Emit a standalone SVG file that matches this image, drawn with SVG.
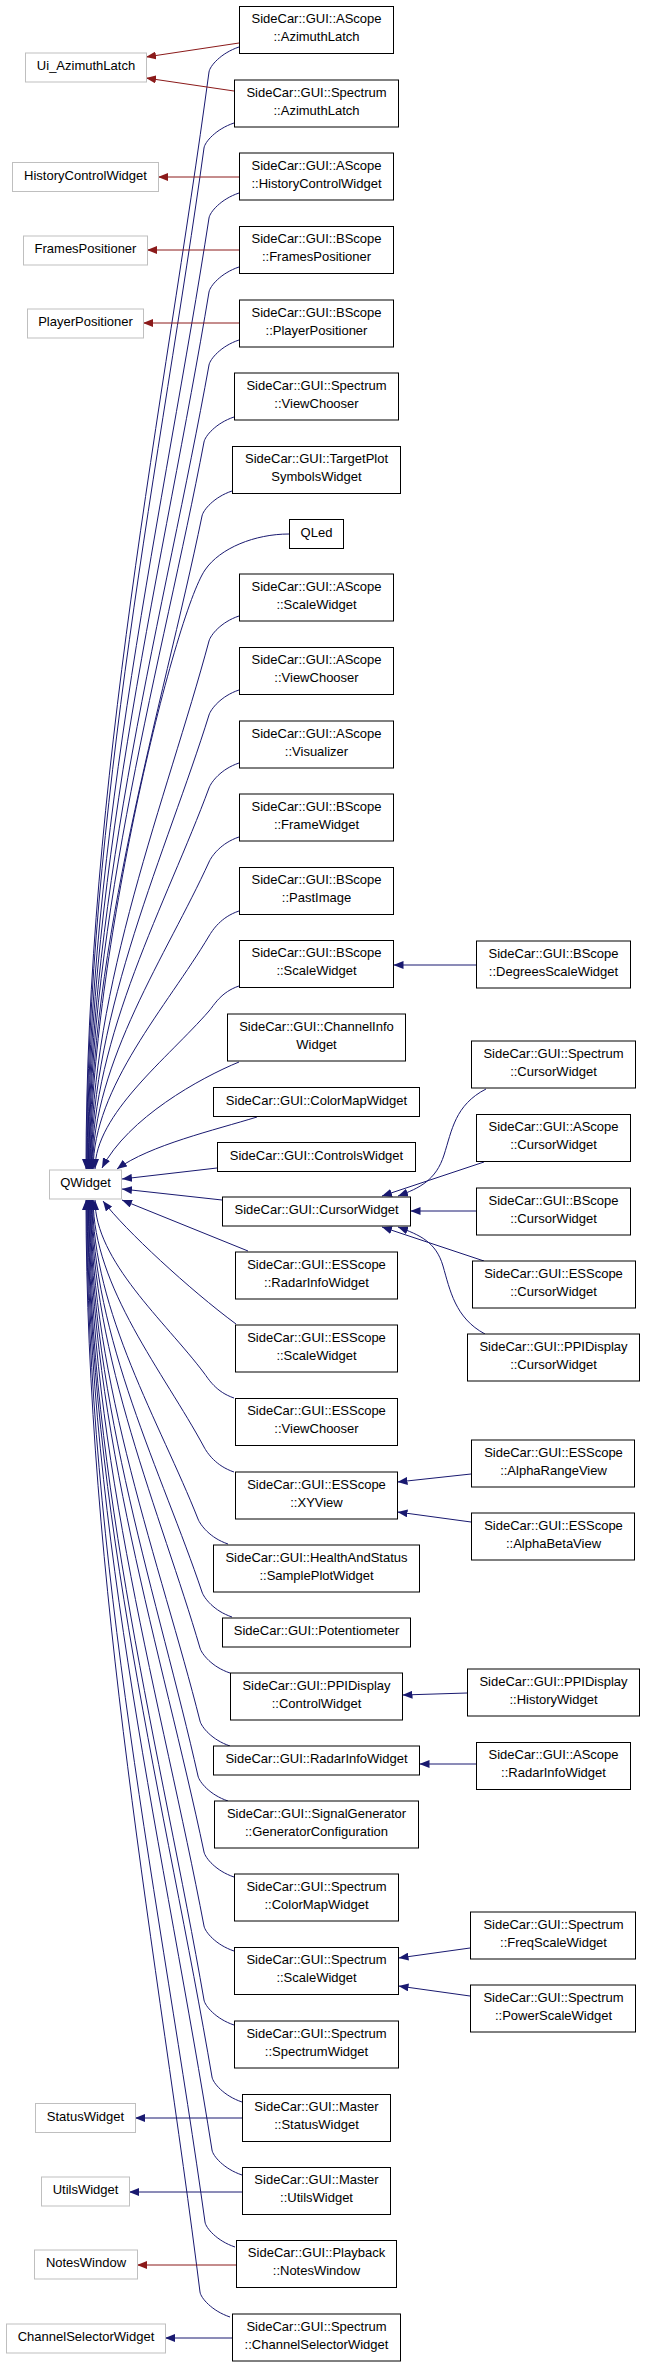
<svg xmlns="http://www.w3.org/2000/svg" width="645" height="2368" viewBox="0 0 645 2368">
<defs>
<style>
.n rect{fill:#fff;stroke:#000;stroke-width:1}
.x rect{fill:#fff;stroke:#bfbfbf;stroke-width:1}
text{font-family:"Liberation Sans",Arial,Helvetica,sans-serif;font-size:13px;fill:#000;text-anchor:middle}
.eb{fill:none;stroke:#191970;stroke-width:1}
.er{fill:none;stroke:#8b1a1a;stroke-width:1}
.eb{marker-end:url(#ab)}
.er{marker-end:url(#ar)}
</style>
<marker id="ab" viewBox="0 0 10 8" refX="10" refY="4" markerWidth="10" markerHeight="8" markerUnits="userSpaceOnUse" orient="auto"><path d="M0,0 L10,4 L0,8 Z" fill="#191970"/></marker>
<marker id="ar" viewBox="0 0 10 8" refX="10" refY="4" markerWidth="10" markerHeight="8" markerUnits="userSpaceOnUse" orient="auto"><path d="M0,0 L10,4 L0,8 Z" fill="#8b1a1a"/></marker>
</defs>
<rect width="645" height="2368" fill="#fff"/>
<g id="edges">
<!-- to QWidget from above -->
<path class="eb" d="M239,47 C221,53 209.8,66 209,72 C164.7,401 86,785 86,1169"/>
<path class="eb" d="M234,123 C216,129 204.8,142 204,148 C161.7,454 86.6,812 86.6,1169"/>
<path class="eb" d="M239,193 C221,199 209.9,212 209,218 C165.1,503 87.2,836 87.2,1169"/>
<path class="eb" d="M239,267 C221,273 210,286 209,292 C165.4,555 87.8,862 87.8,1169"/>
<path class="eb" d="M239,340 C221,346 210.1,359 209,365 C165.6,606 88.4,888 88.4,1169"/>
<path class="eb" d="M234,417 C216,423 205.1,436 204,442 C162.6,660 89,914 89,1169"/>
<path class="eb" d="M232,491 C214,497 203.2,510 202,516 C161.5,712 89.6,940 89.6,1169"/>
<path class="eb" d="M289,534 C255,534 220,548 205,570 C175,614 90.2,956 90.2,1169"/>
<path class="eb" d="M239,616 C221,622 210.6,635 209,641 C166.5,799 90.8,984 90.8,1169"/>
<path class="eb" d="M239,690 C221,696 210.9,709 209,715 C166.7,851 91.4,1010 91.4,1169"/>
<path class="eb" d="M239,763 C221,769 211.2,782 209,788 C166.9,902 92,1036 92,1169"/>
<path class="eb" d="M239,837 C221,843 211.7,856 209,862 C167.1,954 92.6,1062 92.6,1169"/>
<path class="eb" d="M239,911 C221,917 212.6,930 209,936 C167.3,1006 93.2,1087 93.2,1169"/>
<path class="eb" d="M239,986 C221,992 214.2,1005 209,1011 C168,1058 95,1114 95,1169"/>
<path class="eb" d="M239,1062 C200,1078 128,1118 102,1168"/>
<path class="eb" d="M257,1117 C215,1130 150,1145 117,1169"/>
<path class="eb" d="M217,1168 L122,1179"/>
<path class="eb" d="M222,1200 L122,1189"/>
<path class="eb" d="M248,1251 L122,1200"/>
<path class="eb" d="M236,1324 C190,1290 125,1230 103,1201"/>
<!-- to QWidget from below -->
<path class="eb" d="M234,1398 C216,1392 208.5,1379 204,1373 C164.8,1321 95,1261 95,1200"/>
<path class="eb" d="M234,1472 C216,1466 207.2,1453 204,1447 C164.1,1373 93.2,1287 93.2,1200"/>
<path class="eb" d="M228,1544 C210,1538 200.4,1525 198,1519 C160.1,1423 92.6,1312 92.6,1200"/>
<path class="eb" d="M232,1617 C214,1611 204,1598 202,1592 C162.4,1474 92,1337 92,1200"/>
<path class="eb" d="M230,1673 C212,1667 201.7,1654 200,1648 C160.9,1514 91.4,1357 91.4,1200"/>
<path class="eb" d="M230,1746 C212,1740 201.5,1727 200,1721 C160.7,1565 90.8,1382 90.8,1200"/>
<path class="eb" d="M228,1801 C210,1795 199.3,1782 198,1776 C159.2,1603 90.2,1402 90.2,1200"/>
<path class="eb" d="M234,1877 C216,1871 205.3,1858 204,1852 C162.8,1656 89.6,1428 89.6,1200"/>
<path class="eb" d="M234,1951 C216,1945 205.1,1932 204,1926 C162.6,1708 89,1454 89,1200"/>
<path class="eb" d="M234,2025 C216,2019 205,2006 204,2000 C162.4,1760 88.4,1480 88.4,1200"/>
<path class="eb" d="M242,2102 C224,2096 213,2083 212,2077 C167.3,1814 87.8,1507 87.8,1200"/>
<path class="eb" d="M242,2175 C224,2169 212.9,2156 212,2150 C167.1,1865 87.2,1533 87.2,1200"/>
<path class="eb" d="M235,2247 C217,2241 205.8,2228 205,2222 C162.4,1915 86.6,1558 86.6,1200"/>
<path class="eb" d="M230,2317 C212,2311 200.8,2298 200,2292 C159,1964 86,1582 86,1200"/>
<!-- left side bases -->
<path class="er" d="M239,43 L146,57"/>
<path class="er" d="M234,91 L146,78"/>
<path class="er" d="M239,177 L158,177"/>
<path class="er" d="M239,250 L147,250"/>
<path class="er" d="M239,323 L143,323"/>
<path class="eb" d="M242,2118 L135,2118"/>
<path class="eb" d="M242,2192 L129,2192"/>
<path class="er" d="M236,2265 L137,2265"/>
<path class="eb" d="M232,2338 L165,2338"/>
<!-- right side derived -->
<path class="eb" d="M476,965 L393.5,965"/>
<path class="eb" d="M486,1089 C455,1105 452,1130 444,1155 S420,1188 398,1196"/>
<path class="eb" d="M484,1162 L382,1196"/>
<path class="eb" d="M476,1211 L410.5,1211"/>
<path class="eb" d="M484,1261 L382,1227"/>
<path class="eb" d="M485,1334 C455,1318 450,1290 443,1266 S420,1235 398,1227"/>
<path class="eb" d="M471,1474 L397.5,1482"/>
<path class="eb" d="M471,1522 L397.5,1512"/>
<path class="eb" d="M467,1693 L402.5,1695"/>
<path class="eb" d="M476,1764 L419.5,1764"/>
<path class="eb" d="M470,1948 L398.5,1958"/>
<path class="eb" d="M470,1996 L398.5,1986"/>
</g>
<!-- left column (external) -->
<g id="Ui_AzimuthLatch" class="x"><rect x="25.5" y="53" width="121" height="29"/><text x="86" y="70">Ui_AzimuthLatch</text></g>
<g id="HistoryControlWidget" class="x"><rect x="12.5" y="162.5" width="146" height="29"/><text x="85.5" y="179.5">HistoryControlWidget</text></g>
<g id="FramesPositioner" class="x"><rect x="23.5" y="236" width="124" height="29"/><text x="85.5" y="253">FramesPositioner</text></g>
<g id="PlayerPositioner" class="x"><rect x="27.5" y="309" width="116" height="29"/><text x="85.5" y="326">PlayerPositioner</text></g>
<g id="QWidget" class="x"><rect x="49.5" y="1170" width="72" height="29"/><text x="85.5" y="1187">QWidget</text></g>
<g id="StatusWidget" class="x"><rect x="35.5" y="2103.5" width="100" height="29"/><text x="85.5" y="2120.5">StatusWidget</text></g>
<g id="UtilsWidget" class="x"><rect x="41.5" y="2177" width="88" height="29"/><text x="85.5" y="2194">UtilsWidget</text></g>
<g id="NotesWindow" class="x"><rect x="34.5" y="2250" width="103" height="29"/><text x="86" y="2267">NotesWindow</text></g>
<g id="ChannelSelectorWidget" class="x"><rect x="6.5" y="2324" width="159" height="29"/><text x="86" y="2341">ChannelSelectorWidget</text></g>
<!-- middle column -->
<g id="AScope_AzimuthLatch" class="n"><rect x="239.5" y="6.5" width="154" height="47"/><text x="316.5"><tspan x="316.5" y="23">SideCar::GUI::AScope</tspan><tspan x="316.5" y="41">::AzimuthLatch</tspan></text></g>
<g id="Spectrum_AzimuthLatch" class="n"><rect x="234.5" y="80" width="164" height="47"/><text><tspan x="316.5" y="96.5">SideCar::GUI::Spectrum</tspan><tspan x="316.5" y="114.5">::AzimuthLatch</tspan></text></g>
<g id="AScope_HistoryControlWidget" class="n"><rect x="239.5" y="153" width="154" height="47"/><text><tspan x="316.5" y="169.5">SideCar::GUI::AScope</tspan><tspan x="316.5" y="187.5">::HistoryControlWidget</tspan></text></g>
<g id="BScope_FramesPositioner" class="n"><rect x="239.5" y="226.5" width="154" height="47"/><text><tspan x="316.5" y="243">SideCar::GUI::BScope</tspan><tspan x="316.5" y="261">::FramesPositioner</tspan></text></g>
<g id="BScope_PlayerPositioner" class="n"><rect x="239.5" y="300" width="154" height="47"/><text><tspan x="316.5" y="316.5">SideCar::GUI::BScope</tspan><tspan x="316.5" y="334.5">::PlayerPositioner</tspan></text></g>
<g id="Spectrum_ViewChooser" class="n"><rect x="234.5" y="373" width="164" height="47"/><text><tspan x="316.5" y="389.5">SideCar::GUI::Spectrum</tspan><tspan x="316.5" y="407.5">::ViewChooser</tspan></text></g>
<g id="TargetPlotSymbolsWidget" class="n"><rect x="232.5" y="446.5" width="168" height="47"/><text><tspan x="316.5" y="463">SideCar::GUI::TargetPlot</tspan><tspan x="316.5" y="481">SymbolsWidget</tspan></text></g>
<g id="QLed" class="n"><rect x="289.5" y="519.5" width="54" height="29"/><text x="316.5" y="536.5">QLed</text></g>
<g id="AScope_ScaleWidget" class="n"><rect x="239.5" y="574" width="154" height="47"/><text><tspan x="316.5" y="590.5">SideCar::GUI::AScope</tspan><tspan x="316.5" y="608.5">::ScaleWidget</tspan></text></g>
<g id="AScope_ViewChooser" class="n"><rect x="239.5" y="647.5" width="154" height="47"/><text><tspan x="316.5" y="664">SideCar::GUI::AScope</tspan><tspan x="316.5" y="682">::ViewChooser</tspan></text></g>
<g id="AScope_Visualizer" class="n"><rect x="239.5" y="721" width="154" height="47"/><text><tspan x="316.5" y="737.5">SideCar::GUI::AScope</tspan><tspan x="316.5" y="755.5">::Visualizer</tspan></text></g>
<g id="BScope_FrameWidget" class="n"><rect x="239.5" y="794" width="154" height="47"/><text><tspan x="316.5" y="810.5">SideCar::GUI::BScope</tspan><tspan x="316.5" y="828.5">::FrameWidget</tspan></text></g>
<g id="BScope_PastImage" class="n"><rect x="239.5" y="867.5" width="154" height="47"/><text><tspan x="316.5" y="884">SideCar::GUI::BScope</tspan><tspan x="316.5" y="902">::PastImage</tspan></text></g>
<g id="BScope_ScaleWidget" class="n"><rect x="239.5" y="940.5" width="154" height="47"/><text><tspan x="316.5" y="957">SideCar::GUI::BScope</tspan><tspan x="316.5" y="975">::ScaleWidget</tspan></text></g>
<g id="ChannelInfoWidget" class="n"><rect x="227.5" y="1014" width="178" height="47"/><text><tspan x="316.5" y="1030.5">SideCar::GUI::ChannelInfo</tspan><tspan x="316.5" y="1048.5">Widget</tspan></text></g>
<g id="ColorMapWidget" class="n"><rect x="213.5" y="1087.5" width="206" height="29"/><text x="316.5" y="1104.5">SideCar::GUI::ColorMapWidget</text></g>
<g id="ControlsWidget" class="n"><rect x="217.5" y="1142.5" width="198" height="29"/><text x="316.5" y="1159.5">SideCar::GUI::ControlsWidget</text></g>
<g id="CursorWidget" class="n"><rect x="222.5" y="1197" width="188" height="29"/><text x="316.5" y="1214">SideCar::GUI::CursorWidget</text></g>
<g id="ESScope_RadarInfoWidget" class="n"><rect x="235.5" y="1252" width="162" height="47"/><text><tspan x="316.5" y="1268.5">SideCar::GUI::ESScope</tspan><tspan x="316.5" y="1286.5">::RadarInfoWidget</tspan></text></g>
<g id="ESScope_ScaleWidget" class="n"><rect x="235.5" y="1325" width="162" height="47"/><text><tspan x="316.5" y="1341.5">SideCar::GUI::ESScope</tspan><tspan x="316.5" y="1359.5">::ScaleWidget</tspan></text></g>
<g id="ESScope_ViewChooser" class="n"><rect x="235.5" y="1398.5" width="162" height="47"/><text><tspan x="316.5" y="1415">SideCar::GUI::ESScope</tspan><tspan x="316.5" y="1433">::ViewChooser</tspan></text></g>
<g id="ESScope_XYView" class="n"><rect x="235.5" y="1472" width="162" height="47"/><text><tspan x="316.5" y="1488.5">SideCar::GUI::ESScope</tspan><tspan x="316.5" y="1506.5">::XYView</tspan></text></g>
<g id="HealthAndStatus_SamplePlotWidget" class="n"><rect x="213.5" y="1545" width="206" height="47"/><text><tspan x="316.5" y="1561.5">SideCar::GUI::HealthAndStatus</tspan><tspan x="316.5" y="1579.5">::SamplePlotWidget</tspan></text></g>
<g id="Potentiometer" class="n"><rect x="222.5" y="1618" width="188" height="29"/><text x="316.5" y="1635">SideCar::GUI::Potentiometer</text></g>
<g id="PPIDisplay_ControlWidget" class="n"><rect x="230.5" y="1673" width="172" height="47"/><text><tspan x="316.5" y="1689.5">SideCar::GUI::PPIDisplay</tspan><tspan x="316.5" y="1707.5">::ControlWidget</tspan></text></g>
<g id="RadarInfoWidget" class="n"><rect x="213.5" y="1746" width="206" height="29"/><text x="316.5" y="1763">SideCar::GUI::RadarInfoWidget</text></g>
<g id="SignalGenerator_GeneratorConfiguration" class="n"><rect x="214.5" y="1801" width="204" height="47"/><text><tspan x="316.5" y="1817.5">SideCar::GUI::SignalGenerator</tspan><tspan x="316.5" y="1835.5">::GeneratorConfiguration</tspan></text></g>
<g id="Spectrum_ColorMapWidget" class="n"><rect x="234.5" y="1874" width="164" height="47"/><text><tspan x="316.5" y="1890.5">SideCar::GUI::Spectrum</tspan><tspan x="316.5" y="1908.5">::ColorMapWidget</tspan></text></g>
<g id="Spectrum_ScaleWidget" class="n"><rect x="234.5" y="1947.5" width="164" height="47"/><text><tspan x="316.5" y="1964">SideCar::GUI::Spectrum</tspan><tspan x="316.5" y="1982">::ScaleWidget</tspan></text></g>
<g id="Spectrum_SpectrumWidget" class="n"><rect x="234.5" y="2021" width="164" height="47"/><text><tspan x="316.5" y="2037.5">SideCar::GUI::Spectrum</tspan><tspan x="316.5" y="2055.5">::SpectrumWidget</tspan></text></g>
<g id="Master_StatusWidget" class="n"><rect x="242.5" y="2094.5" width="148" height="47"/><text><tspan x="316.5" y="2111">SideCar::GUI::Master</tspan><tspan x="316.5" y="2129">::StatusWidget</tspan></text></g>
<g id="Master_UtilsWidget" class="n"><rect x="242.5" y="2167.5" width="148" height="47"/><text><tspan x="316.5" y="2184">SideCar::GUI::Master</tspan><tspan x="316.5" y="2202">::UtilsWidget</tspan></text></g>
<g id="Playback_NotesWindow" class="n"><rect x="236.5" y="2240.5" width="160" height="47"/><text><tspan x="316.5" y="2257">SideCar::GUI::Playback</tspan><tspan x="316.5" y="2275">::NotesWindow</tspan></text></g>
<g id="Spectrum_ChannelSelectorWidget" class="n"><rect x="232.5" y="2314" width="168" height="47"/><text><tspan x="316.5" y="2330.5">SideCar::GUI::Spectrum</tspan><tspan x="316.5" y="2348.5">::ChannelSelectorWidget</tspan></text></g>
<!-- right column -->
<g id="BScope_DegreesScaleWidget" class="n"><rect x="476.5" y="941" width="154" height="47"/><text><tspan x="553.5" y="957.5">SideCar::GUI::BScope</tspan><tspan x="553.5" y="975.5">::DegreesScaleWidget</tspan></text></g>
<g id="Spectrum_CursorWidget" class="n"><rect x="471.5" y="1041" width="164" height="47"/><text><tspan x="553.5" y="1057.5">SideCar::GUI::Spectrum</tspan><tspan x="553.5" y="1075.5">::CursorWidget</tspan></text></g>
<g id="AScope_CursorWidget" class="n"><rect x="476.5" y="1114.5" width="154" height="47"/><text><tspan x="553.5" y="1131">SideCar::GUI::AScope</tspan><tspan x="553.5" y="1149">::CursorWidget</tspan></text></g>
<g id="BScope_CursorWidget" class="n"><rect x="476.5" y="1188" width="154" height="47"/><text><tspan x="553.5" y="1204.5">SideCar::GUI::BScope</tspan><tspan x="553.5" y="1222.5">::CursorWidget</tspan></text></g>
<g id="ESScope_CursorWidget" class="n"><rect x="472.5" y="1261" width="163" height="47"/><text><tspan x="553.5" y="1277.5">SideCar::GUI::ESScope</tspan><tspan x="553.5" y="1295.5">::CursorWidget</tspan></text></g>
<g id="PPIDisplay_CursorWidget" class="n"><rect x="467.5" y="1334" width="172" height="47"/><text><tspan x="553.5" y="1350.5">SideCar::GUI::PPIDisplay</tspan><tspan x="553.5" y="1368.5">::CursorWidget</tspan></text></g>
<g id="ESScope_AlphaRangeView" class="n"><rect x="471.5" y="1440" width="163" height="47"/><text><tspan x="553.5" y="1456.5">SideCar::GUI::ESScope</tspan><tspan x="553.5" y="1474.5">::AlphaRangeView</tspan></text></g>
<g id="ESScope_AlphaBetaView" class="n"><rect x="471.5" y="1513" width="163" height="47"/><text><tspan x="553.5" y="1529.5">SideCar::GUI::ESScope</tspan><tspan x="553.5" y="1547.5">::AlphaBetaView</tspan></text></g>
<g id="PPIDisplay_HistoryWidget" class="n"><rect x="467.5" y="1669" width="172" height="47"/><text><tspan x="553.5" y="1685.5">SideCar::GUI::PPIDisplay</tspan><tspan x="553.5" y="1703.5">::HistoryWidget</tspan></text></g>
<g id="AScope_RadarInfoWidget" class="n"><rect x="476.5" y="1742.5" width="154" height="47"/><text><tspan x="553.5" y="1759">SideCar::GUI::AScope</tspan><tspan x="553.5" y="1777">::RadarInfoWidget</tspan></text></g>
<g id="Spectrum_FreqScaleWidget" class="n"><rect x="470.5" y="1912" width="165" height="47"/><text><tspan x="553.5" y="1928.5">SideCar::GUI::Spectrum</tspan><tspan x="553.5" y="1946.5">::FreqScaleWidget</tspan></text></g>
<g id="Spectrum_PowerScaleWidget" class="n"><rect x="470.5" y="1985" width="165" height="47"/><text><tspan x="553.5" y="2001.5">SideCar::GUI::Spectrum</tspan><tspan x="553.5" y="2019.5">::PowerScaleWidget</tspan></text></g>
</svg>
